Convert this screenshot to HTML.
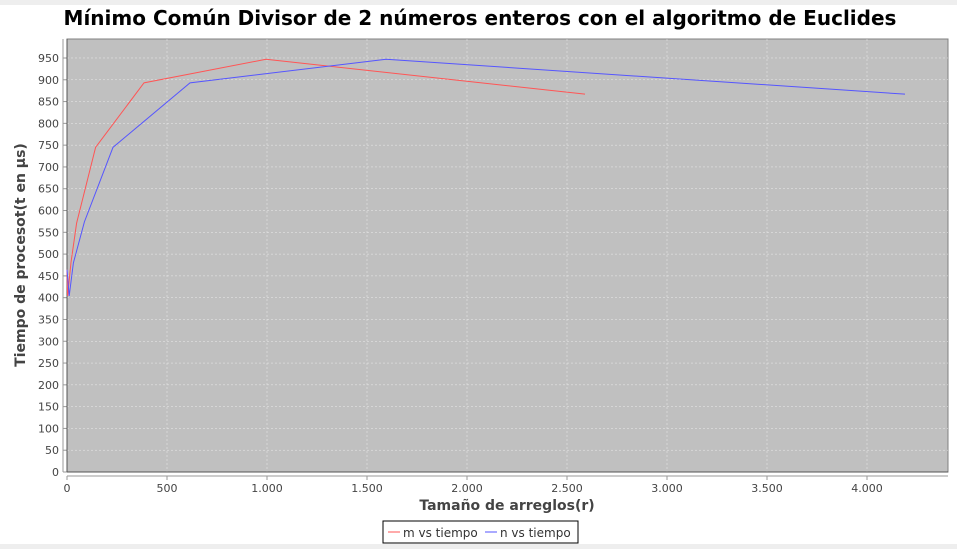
<!DOCTYPE html>
<html><head><meta charset="utf-8"><style>
body{margin:0;background:#fff;width:957px;height:549px;overflow:hidden;font-family:"Liberation Sans",sans-serif}
</style></head><body>
<svg id="chart" width="957" height="549" xmlns="http://www.w3.org/2000/svg">
<rect x="0" y="0" width="957" height="5" fill="#eeeeee"/>
<rect x="0" y="544" width="957" height="5" fill="#eeeeee"/>
<text x="480" y="25" text-anchor="middle" font-size="20" font-weight="bold" font-family="DejaVu Sans, sans-serif">Mínimo Común Divisor de 2 números enteros con el algoritmo de Euclides</text>
<rect x="67" y="39" width="881" height="433" fill="#c0c0c0" stroke="#808080"/>
<g id="grid"></g><g id="axes"></g><g id="series"></g>
<text transform="translate(25,255) rotate(-90)" text-anchor="middle" font-size="14" font-weight="bold" fill="#444" font-family="DejaVu Sans, sans-serif">Tiempo de procesot(t en µs)</text>
<text x="507" y="510" text-anchor="middle" font-size="14" font-weight="bold" fill="#444" font-family="DejaVu Sans, sans-serif">Tamaño de arreglos(r)</text>
<g>
<rect x="383" y="521" width="195" height="22" fill="#fff" stroke="#000"/>
<line x1="388" y1="532" x2="400" y2="532" stroke="#ff5555"/>
<text x="403" y="537" font-size="12" fill="#333" font-family="DejaVu Sans, sans-serif">m vs tiempo</text>
<line x1="485" y1="532" x2="497" y2="532" stroke="#5555ff"/>
<text x="500" y="537" font-size="12" fill="#333" font-family="DejaVu Sans, sans-serif">n vs tiempo</text>
</g>
</svg>
<script>
const mX=[0,3,20,48,143,385,995,2590];
const mY=[464,404,481,571,745,893,947,867];
const nX=[0,11,32,87,230,615,1595,4190];
const nY=[464,404,480,574,745,893,947,867];
const yTicks=[0,50,100,150,200,250,300,350,400,450,500,550,600,650,700,750,800,850,900,950];
const xTicks=[0,500,1000,1500,2000,2500,3000,3500,4000];
const xLabels=["0","500","1.000","1.500","2.000","2.500","3.000","3.500","4.000"];
const sx=v=>67+v*0.2, sy=v=>472-v*0.4358;
const NS="http://www.w3.org/2000/svg";
const grid=document.getElementById('grid'),axes=document.getElementById('axes'),ser=document.getElementById('series');
function mk(t,a,p){const e=document.createElementNS(NS,t);for(const k in a)e.setAttribute(k,a[k]);p.appendChild(e);return e;}
yTicks.forEach(v=>{const y=sy(v);
 if(v>0){const g=mk('line',{x1:67,x2:948,y1:y,y2:y,stroke:'#ececec','stroke-dasharray':'2,2','stroke-width':0.5},grid);
 
 }
 mk('line',{x1:63,x2:67,y1:y,y2:y,stroke:'#999'},axes);
 const t=mk('text',{x:59,y:y+4,'text-anchor':'end','font-size':11,fill:'#444','font-family':'DejaVu Sans, sans-serif'},axes);t.textContent=v;
 
 
});
xTicks.forEach((v,i)=>{const x=sx(v);
 if(v>0){const g=mk('line',{x1:x,x2:x,y1:39,y2:472,stroke:'#ececec','stroke-dasharray':'2,2','stroke-width':0.5},grid);
 
 }
 mk('line',{x1:x,x2:x,y1:476,y2:480,stroke:'#999'},axes);
 const t=mk('text',{x:x,y:492,'text-anchor':'middle','font-size':11,fill:'#444','font-family':'DejaVu Sans, sans-serif'},axes);t.textContent=xLabels[i];
 
 
});
mk('line',{x1:63,x2:63,y1:39,y2:472,stroke:'#999'},axes);
mk('line',{x1:67,x2:948,y1:476,y2:476,stroke:'#999'},axes);
mk('line',{x1:67,x2:67,y1:39,y2:472,stroke:'#555'},axes);
mk('line',{x1:67,x2:948,y1:472,y2:472,stroke:'#555'},axes);
function line(xs,ys,c,name){const p=mk('polyline',{points:xs.map((x,i)=>sx(x)+','+sy(ys[i])).join(' '),fill:'none',stroke:c,'stroke-width':1},ser);
 
 }
line(mX,mY,'#ff5555','series-m-vs-tiempo');
line(nX,nY,'#5555ff','series-n-vs-tiempo');
</script>
</body></html>
